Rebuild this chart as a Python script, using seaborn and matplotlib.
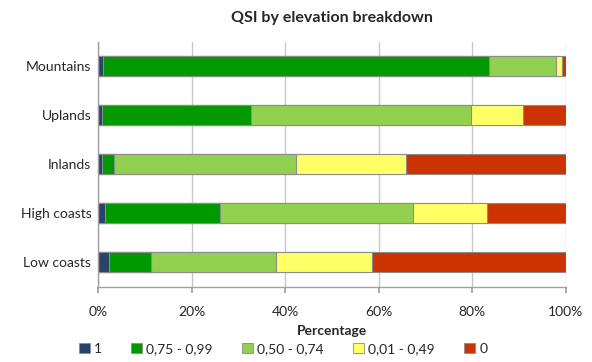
import numpy as np
import pandas as pd
import matplotlib
matplotlib.use("Agg")
import matplotlib.pyplot as plt
from matplotlib.patches import Patch
import seaborn as sns

# values (percent of each elevation class)
regions = ["Mountains", "Uplands", "Inlands", "High coasts", "Low coasts"]
classes = ["1", "0,75 - 0,99", "0,50 - 0,74", "0,01 - 0,49", "0"]
q_1 = [1.1, 0.8, 0.7, 1.4, 2.2]
q_075 = [82.5, 31.9, 2.6, 24.6, 9.1]
q_050 = [14.3, 47.0, 38.9, 41.2, 26.8]
q_001 = [1.2, 11.1, 23.7, 15.9, 20.5]
q_0 = [0.9, 9.2, 34.1, 16.9, 41.4]
colors = ["#28446A", "#009900", "#92D050", "#FFFF66", "#CC3300"]

sns.set_theme(style="white")
plt.rcParams["font.family"] = ["Lato", "DejaVu Sans"]

df = pd.DataFrame({"region": regions, "1": q_1, "0,75 - 0,99": q_075,
                   "0,50 - 0,74": q_050, "0,01 - 0,49": q_001, "0": q_0})
cum = df[classes].cumsum(axis=1)

fig, ax = plt.subplots(figsize=(5.92, 3.62), dpi=100)
fig.subplots_adjust(left=0.166, right=0.956, top=0.885, bottom=0.208)

# stacked bars: draw the widest cumulative first, smaller on top
for cls, col in reversed(list(zip(classes, colors))):
    sns.barplot(x=cum[cls], y=df["region"], color=col, width=0.4, saturation=1,
                edgecolor="#8c8c8c", linewidth=0.8, orient="h", ax=ax)

ax.set_xlim(0, 100)
ax.set_xticks(np.arange(0, 101, 20))
ax.set_xticklabels([f"{v}%" for v in range(0, 101, 20)], fontsize=10)
ax.tick_params(axis="y", labelsize=10, length=0, pad=5)
ax.set_yticks(np.arange(-0.5, 5, 1), minor=True)
ax.tick_params(axis="y", which="minor", length=4, color="#a0a0a0", direction="out")
ax.tick_params(axis="x", length=4, color="#a0a0a0", direction="out", pad=10, bottom=True)
ax.xaxis.grid(True, color="#c8c8c8", linewidth=1)
ax.set_axisbelow(True)
ax.set_ylabel("")
ax.set_xlabel("Percentage", fontsize=10, fontweight="bold", labelpad=5)
for s in ["top", "right"]:
    ax.spines[s].set_visible(False)
for s in ["left", "bottom"]:
    ax.spines[s].set_color("#a0a0a0")
    ax.spines[s].set_linewidth(1)

ax.set_title("QSI by elevation breakdown", fontsize=11.5, fontweight="bold", pad=14)

handles = [Patch(facecolor=c, edgecolor="#8c8c8c", linewidth=0.6) for c in colors]
fig.legend(handles, classes, loc="lower center", ncol=5, frameon=False,
           fontsize=10, bbox_to_anchor=(0.478, -0.015), handlelength=0.8,
           handleheight=0.8, handletextpad=0.3, columnspacing=2.1)

fig.savefig("out.png", dpi=100)
